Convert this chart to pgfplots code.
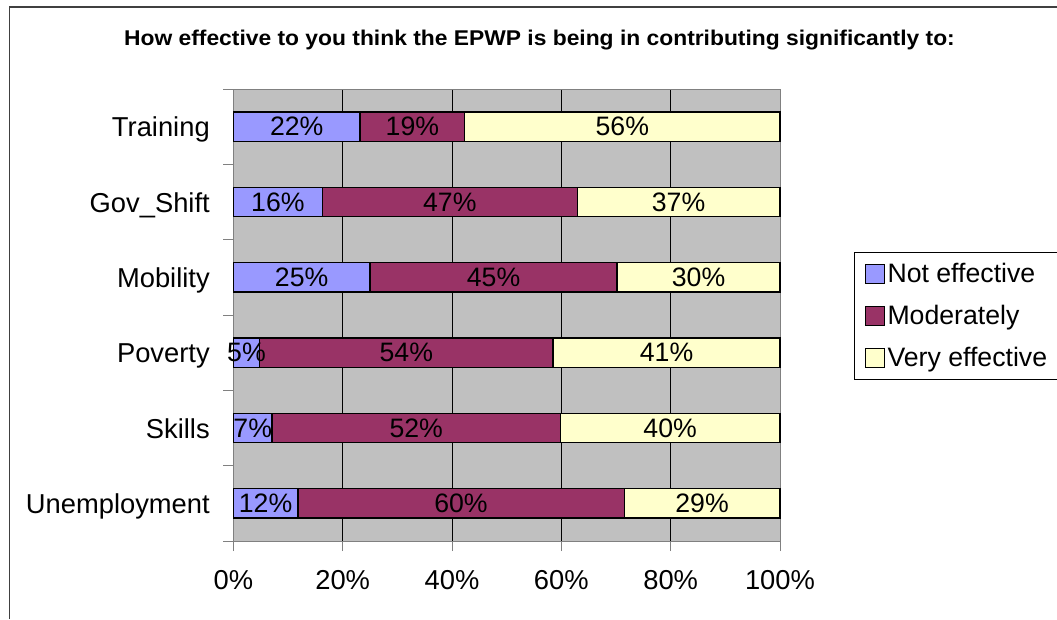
\documentclass[border=0pt]{standalone}
\usepackage{pgfplots}
\pgfplotsset{compat=1.18}
\usepackage{pgfplotstable}
\usepackage{graphicx}
\usepackage{fontspec}
\setmainfont{Liberation Sans}
\definecolor{notc}{HTML}{9999FF}
\definecolor{modc}{HTML}{993366}
\definecolor{veryc}{HTML}{FFFFCC}
\definecolor{bgc}{HTML}{C0C0C0}
\definecolor{axgray}{HTML}{808080}
\definecolor{framec}{HTML}{404040}

\pgfplotstableread{
y v lbl
0 11.8 12
1 7.1 7
2 4.8 5
3 25.0 25
4 16.3 16
5 23.2 22
}\tnot
\pgfplotstableread{
y v lbl
0 59.7 60
1 52.7 52
2 53.7 54
3 45.2 45
4 46.6 47
5 19.1 19
}\tmod
\pgfplotstableread{
y v lbl
0 28.5 29
1 40.2 40
2 41.5 41
3 29.8 30
4 37.1 37
5 57.7 56
}\tvery

\begin{document}
\begin{tikzpicture}
\clip (0,0) rectangle (792.75pt,464.25pt);
\fill[white] (0,0) rectangle (792.75pt,464.25pt);
\draw[framec, line width=1.1pt] (7pt,0) -- (7pt,459pt) -- (800pt,459pt);
\node[anchor=base, font=\bfseries\fontsize{16}{19}\selectfont] at (404.6pt,430pt)
  {\scalebox{1.07}[1]{How effective to you think the EPWP is being in contributing significantly to:}};
\begin{axis}[
  at={(175pt,58.5pt)}, anchor=south west,
  width=410pt, height=339pt, scale only axis,
  xbar stacked, bar width=22pt,
  xmin=0, xmax=100, ymin=-0.5, ymax=5.5,
  axis background/.style={fill=bgc},
  axis line style={draw=axgray, line width=0.75pt},
  xtick={0,20,...,100},
  xticklabels={0\%,20\%,40\%,60\%,80\%,100\%},
  minor xtick={0,20,...,100},
  ytick={0,...,5},
  yticklabels={Unemployment,Skills,Poverty,Mobility,Gov\_Shift,Training},
  minor ytick={-0.5,0.5,...,5.5},
  xtick pos=bottom, ytick pos=left,
  major tick length=0pt, minor tick length=7.5pt, tick align=outside,
  tick style={draw=axgray, line width=0.75pt},
  xmajorgrids, major grid style={draw=black, line width=0.75pt},
  tick label style={font=\fontsize{20.5}{24}\selectfont, inner sep=0pt},
  xticklabel style={anchor=base, yshift=-36.4pt},
  yticklabel style={anchor=base east, xshift=-17.5pt, yshift=-7.5pt},
  point meta=explicit symbolic,
  nodes near coords={\pgfplotspointmeta\%},
  every node near coord/.style={anchor=center, font=\fontsize{20}{24}\selectfont, text=black, inner sep=0pt},
  legend style={at={(1.1354,0.6394)}, anchor=north west, draw=black, fill=white,
    font=\fontsize{20}{24}\selectfont, row sep=11.5pt, inner xsep=8pt, inner ysep=6pt,
    cells={anchor=west}, line width=0.75pt},
  legend image code/.code={\draw[#1, draw=black, line width=0.75pt] (1pt,-7pt) rectangle (15pt,7pt);},
  clip=false,
]
\addplot[fill=notc, draw=black, line width=1pt] table[x=v, y=y, meta=lbl] {\tnot};
\addplot[fill=modc, draw=black, line width=1pt] table[x=v, y=y, meta=lbl] {\tmod};
\addplot[fill=veryc, draw=black, line width=1pt] table[x=v, y=y, meta=lbl] {\tvery};
\legend{Not effective, Moderately, Very effective\hspace*{12pt}}
\end{axis}
\end{tikzpicture}
\end{document}
